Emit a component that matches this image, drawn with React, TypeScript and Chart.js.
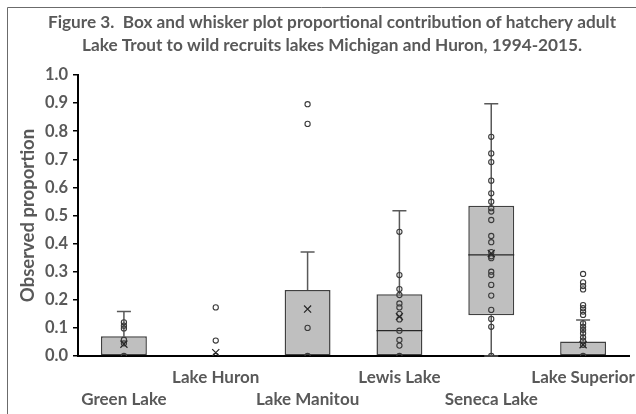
import { useEffect, useRef } from 'react';
import { Chart, registerables } from 'chart.js';

Chart.register(...registerables);

// ---------- data ----------
const categories = ['Green Lake', 'Lake Huron', 'Lake Manitou', 'Lewis Lake', 'Seneca Lake', 'Lake Superior'];
const q1Values = [0, 0, 0, 0, 0.145, 0];
const medianValues = [0, 0, 0, 0.09, 0.36, 0];
const q3Values = [0.07, 0, 0.235, 0.22, 0.535, 0.052];
const whiskerMinValues = [0, 0, 0, 0, 0, 0];
const whiskerMaxValues = [0.158, 0, 0.37, 0.517, 0.898, 0.128];
const meanValues = [0.042, 0.012, 0.167, 0.14, 0.365, 0.04];

const greenLakePoints = [0.12, 0.108, 0.098, 0.058, 0.045, 0];
const lakeHuronPoints = [0.173, 0.055, 0];
const lakeManitouPoints = [0.896, 0.826, 0.1, 0];
const lewisLakePoints = [0.442, 0.288, 0.238, 0.217, 0.187, 0.173, 0.15, 0.13, 0.09, 0.057, 0.037, 0];
const senecaLakePoints = [0.78, 0.721, 0.69, 0.624, 0.579, 0.549, 0.526, 0.514, 0.484, 0.427, 0.405, 0.37, 0.355, 0.348, 0.3, 0.288, 0.253, 0.215, 0.164, 0.132, 0.104, 0];
const lakeSuperiorPoints = [0.292, 0.262, 0.249, 0.237, 0.181, 0.17, 0.158, 0.146, 0.116, 0.104, 0.093, 0.081, 0.066, 0.055, 0.04, 0];
const pointsByCategory = [greenLakePoints, lakeHuronPoints, lakeManitouPoints, lewisLakePoints, senecaLakePoints, lakeSuperiorPoints];

const titleLines = [
  'Figure 3.  Box and whisker plot proportional contribution of hatchery adult',
  'Lake Trout to wild recruits lakes Michigan and Huron, 1994-2015.',
];
const yAxisTitle = 'Observed proportion';
const yMin = 0;
const yMax = 1;
const yStep = 0.1;

// ---------- styles ----------
const TEXT_GRAY = '#595959';
const FONT = 'Lato, "Open Sans", sans-serif';
const BOX_FILL = '#bfbfbf';
const BOX_EDGE = '#404040';

export default function App() {
  const ref = useRef<HTMLCanvasElement>(null);

  useEffect(() => {
    if (!ref.current) return;

    const framePlugin = {
      id: 'frame',
      beforeDraw(chart: any) {
        const ctx = chart.ctx;
        ctx.save();
        ctx.fillStyle = '#ffffff';
        ctx.fillRect(0, 0, chart.width, chart.height);
        ctx.strokeStyle = '#6b6b6b';
        ctx.lineWidth = 1;
        ctx.beginPath();
        ctx.moveTo(7.5, chart.height);
        ctx.lineTo(7.5, 7.5);
        ctx.lineTo(chart.width, 7.5);
        ctx.stroke();
        ctx.restore();
      },
      afterDraw(chart: any) {
        const ctx = chart.ctx;
        ctx.save();
        ctx.fillStyle = TEXT_GRAY;
        ctx.font = `bold 17.2px ${FONT}`;
        ctx.textAlign = 'center';
        ctx.textBaseline = 'middle';
        ctx.fillText(titleLines[0], 332, 22);
        ctx.fillText(titleLines[1], 332, 45);
        ctx.restore();
      },
    };

    const whiskerPlugin = {
      id: 'whiskers',
      afterDatasetDraw(chart: any, args: any) {
        if (args.index !== 0) return;
        const ctx = chart.ctx;
        const xs = chart.scales.x;
        const ys = chart.scales.y;
        const bars = chart.getDatasetMeta(0).data;
        ctx.save();
        categories.forEach((_, i) => {
          const x = xs.getPixelForValue(i);
          const half = bars[i] ? bars[i].width / 2 : 23;
          const yq1 = ys.getPixelForValue(q1Values[i]);
          const yq3 = ys.getPixelForValue(q3Values[i]);
          const ymin = ys.getPixelForValue(whiskerMinValues[i]);
          const ymax = ys.getPixelForValue(whiskerMaxValues[i]);
          ctx.strokeStyle = '#595959';
          ctx.lineWidth = 1.5;
          if (whiskerMaxValues[i] > q3Values[i]) {
            ctx.beginPath();
            ctx.moveTo(x, yq3);
            ctx.lineTo(x, ymax);
            ctx.moveTo(x - 7, ymax);
            ctx.lineTo(x + 7, ymax);
            ctx.stroke();
          }
          if (whiskerMinValues[i] < q1Values[i]) {
            ctx.beginPath();
            ctx.moveTo(x, yq1);
            ctx.lineTo(x, ymin);
            ctx.moveTo(x - 7, ymin);
            ctx.lineTo(x + 7, ymin);
            ctx.stroke();
          }
          if (medianValues[i] > q1Values[i] && medianValues[i] < q3Values[i]) {
            const ym = ys.getPixelForValue(medianValues[i]);
            ctx.strokeStyle = '#262626';
            ctx.lineWidth = 1.2;
            ctx.beginPath();
            ctx.moveTo(x - half, ym);
            ctx.lineTo(x + half, ym);
            ctx.stroke();
          }
        });
        ctx.restore();
      },
    };

    const scatterData: { x: string; y: number }[] = [];
    pointsByCategory.forEach((pts, i) => pts.forEach((v) => scatterData.push({ x: categories[i], y: v })));
    const meanData = meanValues.map((v, i) => ({ x: categories[i], y: v }));

    const chart = new Chart(ref.current, {
      type: 'bar',
      data: {
        labels: categories,
        datasets: [
          {
            type: 'bar',
            data: categories.map((_, i) => [q1Values[i], q3Values[i]]) as any,
            backgroundColor: BOX_FILL,
            borderColor: BOX_EDGE,
            borderWidth: 1.5,
            borderSkipped: false,
            categoryPercentage: 1,
            barPercentage: 0.5,
            order: 3,
          },
          {
            type: 'scatter',
            data: scatterData as any,
            pointStyle: 'circle',
            pointRadius: 2.6,
            pointBorderWidth: 1.1,
            pointBorderColor: '#3a3a3a',
            pointBackgroundColor: 'rgba(0,0,0,0)',
            order: 2,
          } as any,
          {
            type: 'scatter',
            data: meanData as any,
            pointStyle: 'crossRot',
            pointRadius: 5,
            pointBorderWidth: 1.2,
            pointBorderColor: '#262626',
            order: 1,
          } as any,
        ],
      },
      options: {
        responsive: false,
        animation: false,
        events: [],
        layout: { padding: { top: 75, left: 8, right: 7, bottom: 0 } },
        plugins: {
          legend: { display: false },
          tooltip: { enabled: false },
          title: { display: false },
        },
        scales: {
          x: {
            type: 'category',
            offset: true,
            grid: { display: false, drawTicks: false },
            border: { display: true, color: '#000000', width: 2 },
            ticks: {
              autoSkip: false,
              maxRotation: 0,
              minRotation: 0,
              padding: 11,
              color: TEXT_GRAY,
              font: { family: FONT, size: 17, weight: 'bold', lineHeight: 1.294 },
              callback: (_v: any, idx: number) => (idx % 2 === 0 ? ['', categories[idx]] : categories[idx]),
            },
            afterFit: (s: any) => {
              s.height = 58;
              s.paddingLeft = 0;
              s.paddingRight = 0;
            },
          },
          y: {
            type: 'linear',
            min: yMin,
            max: yMax,
            grid: { drawOnChartArea: false, drawTicks: true, tickLength: 5, color: '#000000', lineWidth: 1.5 },
            border: { display: true, color: '#000000', width: 2 },
            ticks: {
              stepSize: yStep,
              padding: 5,
              color: TEXT_GRAY,
              font: { family: FONT, size: 16.5, weight: 'bold' },
              callback: (v: any) => Number(v).toFixed(1),
            },
            title: {
              display: true,
              text: yAxisTitle,
              color: TEXT_GRAY,
              font: { family: FONT, size: 18.5, weight: 'bold' },
              padding: { top: 9, bottom: 0 },
            },
            afterFit: (s: any) => {
              s.width = 70;
              s.paddingTop = 0;
              s.paddingBottom = 0;
            },
          },
        },
      },
      plugins: [framePlugin, whiskerPlugin],
    });

    return () => chart.destroy();
  }, []);

  return (
    <div style={{ position: 'absolute', left: 0, top: 0, width: 636, height: 414, overflow: 'hidden', background: '#fff' }}>
      <canvas ref={ref} width={636} height={414} style={{ width: 636, height: 414, display: 'block' }} />
    </div>
  );
}
